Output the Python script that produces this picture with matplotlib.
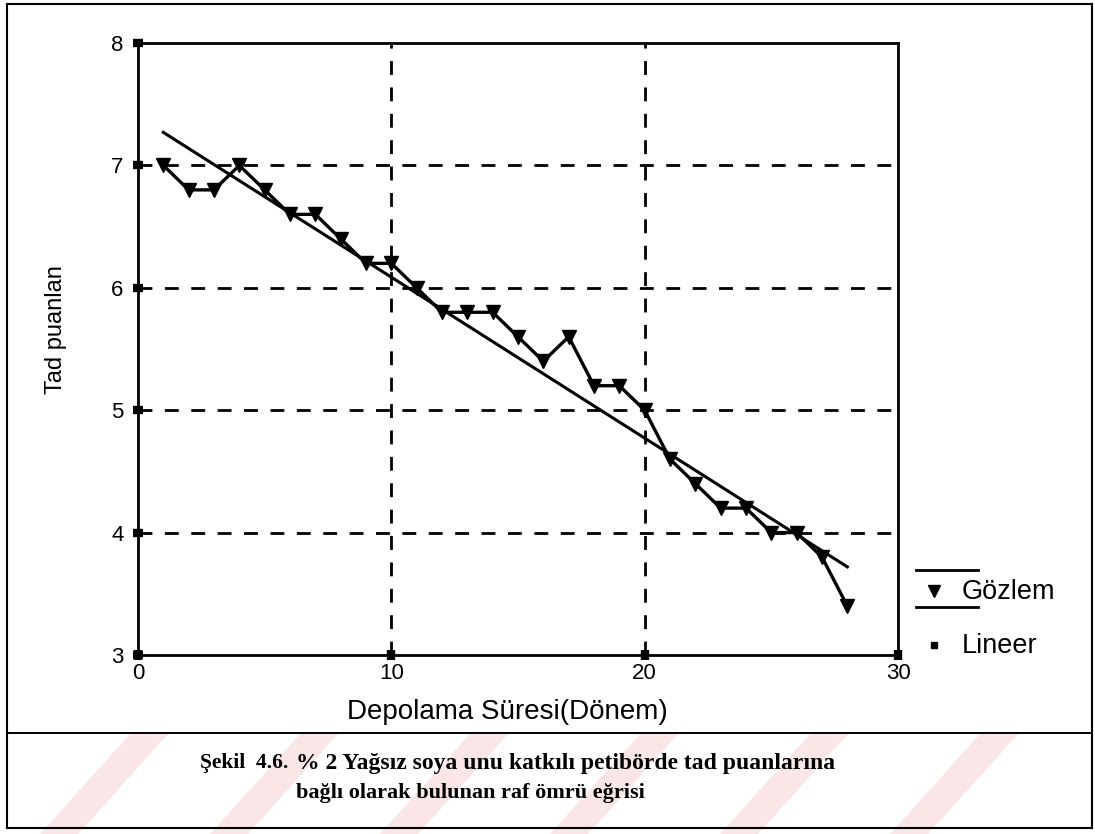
import matplotlib
matplotlib.use("Agg")
import matplotlib.pyplot as plt
from matplotlib.lines import Line2D
from matplotlib.patches import Rectangle, Polygon

# ---- data ----
period = [1, 2, 3, 4, 5, 6, 7, 8, 9, 10, 11, 12, 13, 14, 15, 16, 17, 18, 19, 20,
          21, 22, 23, 24, 25, 26, 27, 28]
taste_obs = [7.0, 6.8, 6.8, 7.0, 6.8, 6.6, 6.6, 6.4, 6.2, 6.2, 6.0, 5.8, 5.8, 5.8,
             5.6, 5.4, 5.6, 5.2, 5.2, 5.0, 4.6, 4.4, 4.2, 4.2, 4.0, 4.0, 3.8, 3.4]
lin_x = [1, 28]
lin_y = [7.27, 3.72]
x_ticks = [0, 10, 20, 30]
y_ticks = [3, 4, 5, 6, 7, 8]
x_label = "Depolama Süresi(Dönem)"
y_label = "Tad puanlan"
legend_labels = ["Gözlem", "Lineer"]
caption_head = "Şekil  4.6."
caption_1 = "% 2 Yağsız soya unu katkılı petibörde tad puanlarına"
caption_2 = "bağlı olarak bulunan raf ömrü eğrisi"

W, H = 1095, 834
plt.rcParams['font.family'] = ['Liberation Sans', 'DejaVu Sans']

fig = plt.figure(figsize=(W / 100, H / 100), dpi=100)

def fx(px):
    return px / W

def fy(py):
    return 1 - py / H

# faint watermark stripes in caption area
for x0 in [40, 210, 380, 550, 720, 890]:
    poly = Polygon([(fx(x0), fy(834)), (fx(x0 + 38), fy(834)),
                    (fx(x0 + 128), fy(734)), (fx(x0 + 90), fy(734))],
                   closed=True, transform=fig.transFigure, facecolor='#fae6e6',
                   edgecolor='none', zorder=0)
    fig.add_artist(poly)

ax = fig.add_axes([fx(138), fy(655), (898 - 138) / W, (655 - 43) / H])
ax.set_xlim(x_ticks[0], x_ticks[-1])
ax.set_ylim(y_ticks[0], y_ticks[-1])
ax.set_xticks(x_ticks)
ax.set_yticks(y_ticks)
ax.patch.set_alpha(0)

for v in x_ticks[1:-1]:
    ax.axvline(v, color='black', lw=2.0, ls=(0, (5, 4.5)), zorder=1)
for v in y_ticks[1:-1]:
    ax.axhline(v, color='black', lw=2.0, ls=(0, (5, 4.5)), zorder=1)

ax.plot(lin_x, lin_y, color='black', lw=2.2, zorder=2)
ax.plot(period, taste_obs, color='black', lw=2.4, marker='v', markersize=10,
        zorder=3)

for s in ax.spines.values():
    s.set_linewidth(2.0)
ax.tick_params(direction='inout', length=7, width=6, labelsize=16)
ax.tick_params(axis='x', pad=2)
ax.tick_params(axis='y', pad=7)
ax.set_xlabel(x_label, fontsize=20, va='center')
ax.xaxis.set_label_coords((507 - 138) / 760, (655 - 712) / 612)
ax.set_ylabel(y_label, fontsize=17, va='center', ha='center')
ax.yaxis.set_label_coords((56 - 138) / 760, (655 - 330) / 612)

# legend (drawn in figure space, SPSS style)
fig.add_artist(Line2D([fx(916), fx(978)], [fy(570), fy(570)], color='black', lw=2))
fig.add_artist(Line2D([fx(916), fx(978)], [fy(607), fy(607)], color='black', lw=2))
fig.add_artist(Line2D([fx(934)], [fy(591)], marker='v', color='black', markersize=9, lw=0))
fig.add_artist(Line2D([fx(934)], [fy(645)], marker='s', color='black', markersize=5, lw=0))
fig.text(fx(962), fy(592), legend_labels[0], fontsize=19.5, va='center', ha='left')
fig.text(fx(962), fy(646), legend_labels[1], fontsize=19.5, va='center', ha='left')

# outer frame and caption separator
fig.add_artist(Rectangle((fx(7), fy(828)), (1092 - 7) / W, (828 - 4) / H,
                         transform=fig.transFigure, fill=False, edgecolor='black', lw=1.5))
fig.add_artist(Line2D([fx(7), fx(1092)], [fy(733), fy(733)], color='black', lw=1.4))

cap_kw = dict(family='Liberation Serif', va='center', ha='left', weight='bold')
fig.text(fx(200), fy(763), caption_head, fontsize=15.5, **cap_kw)
fig.text(fx(296), fy(763), caption_1, fontsize=17, **cap_kw)
fig.text(fx(296), fy(793), caption_2, fontsize=16, **cap_kw)

fig.savefig("out.png", dpi=100)
